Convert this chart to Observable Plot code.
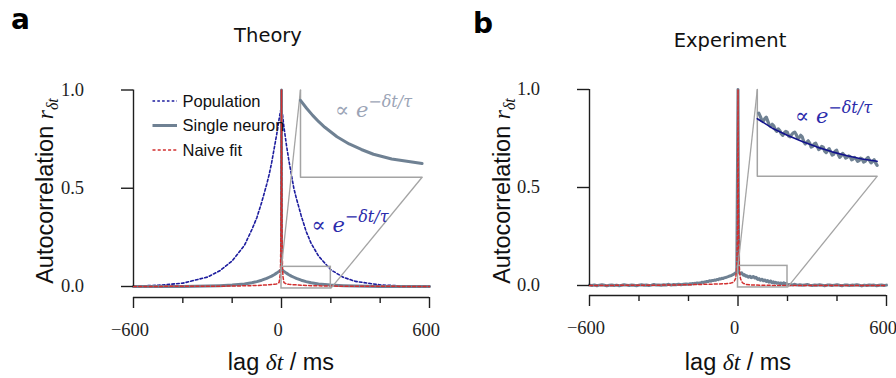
<!DOCTYPE html>
<html><head><meta charset="utf-8">
<script src="https://cdn.jsdelivr.net/npm/d3@7"></script>
<script src="https://cdn.jsdelivr.net/npm/@observablehq/plot@0.6"></script>
<style>
body{margin:0;background:#fff}
#wrap{position:relative;width:896px;height:378px;overflow:hidden;background:#fff}
#wrap svg{position:absolute;top:0}
</style></head><body><div id="wrap"></div>
<script>
// ---------------- data ----------------
const theoryLag      = [0, 10, 20, 30, 40, 50, 60, 80, 100, 120, 150, 200, 250, 300, 400, 500, 600];
const populationPos  = [0.92, 0.81, 0.72, 0.64, 0.57, 0.50, 0.45, 0.36, 0.28, 0.22, 0.155, 0.085, 0.047, 0.026, 0.008, 0.002, 0];
const populationNeg  = [0.92, 0.85, 0.77, 0.70, 0.63, 0.57, 0.52, 0.43, 0.35, 0.29, 0.21, 0.13, 0.08, 0.048, 0.017, 0.006, 0.002];
const singleNeuronAC = [0.087, 0.077, 0.068, 0.060, 0.053, 0.047, 0.041, 0.032, 0.025, 0.019, 0.013, 0.0072, 0.004, 0.002, 0.0006, 0.0002, 0.0001];
const zeroLagAC = 1.0;
const naiveLag       = [0, 1, 2, 4, 6, 10, 20, 30, 50, 100, 200, 600];
const naiveTheoryAC  = [1.0, 0.55, 0.3, 0.1, 0.05, 0.02, 0.013, 0.011, 0.009, 0.005, 0.002, 0];

const expLagFarNeg  = d3.range(-600, -200, 10);
const expFarNeg = [0.002,0.000,0.003,-0.001,0.002,0.004,0.001,-0.002,0.001,0.003,
                   0.000,0.002,-0.001,0.001,0.004,0.002,0.000,0.003,0.001,-0.001,
                   0.002,0.004,0.001,0.003,0.000,0.002,0.005,0.002,0.003,0.001,
                   0.004,0.003,0.006,0.002,0.005,0.004,0.007,0.004,0.006,0.008];
const expLagNearNeg = d3.range(-200, 0, 5);
const expNearNeg = [0.006,0.009,0.007,0.010,0.009,0.011,0.010,0.013,0.011,0.013,
                    0.014,0.017,0.015,0.018,0.019,0.021,0.020,0.024,0.022,0.026,
                    0.025,0.028,0.027,0.031,0.030,0.034,0.033,0.037,0.036,0.040,
                    0.041,0.043,0.045,0.048,0.050,0.052,0.056,0.059,0.064,0.070];
const expLagNearPos = d3.range(2.5, 202.5, 2.5);
const expNearPos = [0.070,0.066,0.061,0.060,0.063,0.065,0.060,0.055,0.053,0.056,
                    0.054,0.049,0.047,0.050,0.048,0.044,0.042,0.045,0.047,0.046,
                    0.041,0.040,0.043,0.045,0.046,0.043,0.038,0.039,0.042,0.040,
                    0.034,0.031,0.033,0.035,0.032,0.027,0.028,0.031,0.032,0.028,
                    0.024,0.025,0.028,0.027,0.022,0.020,0.023,0.025,0.021,0.017,
                    0.018,0.022,0.023,0.018,0.014,0.016,0.019,0.017,0.013,0.014,
                    0.016,0.015,0.011,0.012,0.014,0.012,0.009,0.010,0.013,0.012,
                    0.008,0.009,0.012,0.014,0.010,0.007,0.009,0.011,0.007,0.004];
const expLagFarPos  = d3.range(210, 610, 10);
const expFarPos = [0.005,0.003,0.006,0.002,0.004,0.001,0.003,0.005,0.002,0.000,
                   0.003,0.001,0.004,0.002,-0.001,0.002,0.003,0.000,0.002,0.004,
                   0.001,-0.001,0.002,0.003,0.000,0.002,0.001,0.004,0.001,-0.002,
                   0.002,0.000,0.003,0.001,0.002,-0.001,0.001,0.003,0.000,0.002];
const naiveExpLag = [-600,-300,-200,-100,-50,-30,-20,-15,-10,-7,-5,-3,-2,-1,0,1,2,3,5,7,10,15,20,30,50,100,200,300,600];
const naiveExpAC  = [0.000,0.002,0.004,0.007,0.009,0.012,0.016,0.022,0.035,0.06,0.10,0.2,0.3,0.5,1.0,0.5,0.3,0.2,0.1,0.06,0.035,0.02,0.012,0.006,0.003,0.001,0.000,0.000,0.000];
const fitLag = [0, 25, 50, 75, 100, 125, 150, 175, 200];
const fitAC  = [0.063, 0.051, 0.042, 0.034, 0.027, 0.021, 0.016, 0.012, 0.009];

const xMajorTicks = [-600, 0, 600];
const xMinorTicks = [-400, -200, 200, 400];
const yTicks = [0, 0.5, 1.0];
const legendLabels = ["Population", "Single neuron", "Naive fit"];
const titles = ["Theory", "Experiment"];

// ---------------- style ----------------
const GRAY = "#6f8193", BLUE = "#1c1c9e", RED = "#d22f2f", INSET = "#a4a4a4",
      INK = "#1e1e1e", FIT = "#12128c", TXTBLUE = "#2b2bab", TXTGRAY = "#9ba4b6";
const SANS = "'Liberation Sans', Arial, sans-serif";
const SERIF = "'Liberation Serif', 'DejaVu Serif', serif";
const MATH = "'DejaVu Serif', serif";
const TITLEF = "'DejaVu Sans', sans-serif";

const pts = (xs, ys) => xs.map((x, i) => ({x, y: ys[i]}));
const negPts = (xs, ys) => xs.map((x, i) => ({x: -x, y: ys[i]})).reverse();
function addText(svg, x, y, parts, opts = {}) {
  const t = d3.select(svg).append("text").attr("x", x).attr("y", y)
    .attr("text-anchor", opts.anchor || "start").attr("fill", opts.fill || INK);
  if (opts.transform) t.attr("transform", opts.transform).attr("x", 0).attr("y", 0);
  for (const p of parts) {
    const s = t.append("tspan").text(p.t)
      .attr("font-family", p.ff || SANS).attr("font-size", p.fs || 20)
      .attr("font-style", p.it ? "italic" : "normal")
      .attr("font-weight", p.bold ? "bold" : "normal");
    if (p.dy) s.attr("dy", p.dy);
  }
  return t;
}

function panel(cfg) {
  const box = cfg.inset;
  const mx = x => box.x[0] + (x - box.dx[0]) / (box.dx[1] - box.dx[0]) * (box.x[1] - box.x[0]);
  const my = y => box.y[0] + (y - box.dy[0]) / (box.dy[1] - box.dy[0]) * (box.y[1] - box.y[0]);
  const toInset = arr => arr.filter(p => p.x >= box.dx[0] && p.x <= box.dx[1] && p.y <= box.dy[1])
                            .map(p => ({x: mx(p.x), y: my(p.y)}));
  const insetMarks = [
    Plot.rect([{x1: box.dx[0], x2: box.dx[1], y1: box.dy[0], y2: box.dy[1]}],
      {x1: "x1", x2: "x2", y1: "y1", y2: "y2", fill: "none", stroke: INSET, strokeWidth: 1.5}),
    Plot.link([{x1: box.dx[0], y1: box.dy[1], x2: box.x[0], y2: box.y[1]},
               {x1: box.dx[1], y1: box.dy[0], x2: box.x[1], y2: box.y[0]}],
      {x1: "x1", y1: "y1", x2: "x2", y2: "y2", stroke: INSET, strokeWidth: 1.3}),
    Plot.line([{x: box.x[0], y: box.y[1]}, {x: box.x[0], y: box.y[0]}, {x: box.x[1], y: box.y[0]}],
      {x: "x", y: "y", stroke: INSET, strokeWidth: 1.5})
  ];
  for (const s of cfg.insetSeries) {
    insetMarks.push(Plot.line(toInset(s.data), {x: "x", y: "y", stroke: s.stroke, strokeWidth: s.width, strokeLinejoin: "round"}));
  }
  const svg = Plot.plot({
    width: 448, height: 378,
    marginLeft: cfg.ml, marginRight: cfg.mr, marginTop: cfg.mt, marginBottom: cfg.mb,
    x: {domain: [-600, 600]},
    y: {domain: [cfg.yMin, 1]},
    style: {fontFamily: SERIF, fontSize: "18.5px", color: INK, background: "transparent", overflow: "visible"},
    marks: [
      ...cfg.mainMarks,
      ...insetMarks,
      Plot.ruleX([{x: -600, y1: 0, y2: 1}], {x: "x", y1: "y1", y2: "y2", stroke: INK, strokeWidth: 1.4}),
      Plot.ruleY([{y: cfg.yMin, x1: -600, x2: 600}], {y: "y", x1: "x1", x2: "x2", stroke: INK, strokeWidth: 1.4}),
      Plot.axisY({ticks: yTicks, tickSize: 12, tickFormat: () => "", label: null, strokeWidth: 1.4}),
      Plot.axisX({ticks: xMajorTicks, tickSize: 11, tickFormat: () => "", label: null, strokeWidth: 1.4}),
      Plot.text(xMajorTicks, {x: d => d, frameAnchor: "bottom", dy: 25, dx: -3.5, lineAnchor: "top",
                              text: d => d3.format("d")(d), fontSize: 18.5, fontFamily: SERIF, fill: INK}),
      Plot.axisX({ticks: xMinorTicks, tickSize: 6, tickFormat: () => "", label: null, strokeWidth: 1.4})
    ]
  });
  svg.style.left = cfg.left + "px";
  return svg;
}

// y tick labels placed through each plot's own y scale, right-aligned left of the ticks
function yTickLabels(svg, ml) {
  const ys = svg.scale("y");
  const g = d3.select(svg).append("g");
  for (const v of yTicks) {
    g.append("text").attr("x", ml - 49).attr("y", ys.apply(v)).attr("dy", "0.34em")
      .attr("text-anchor", "end").attr("font-family", SERIF).attr("font-size", 18.5)
      .attr("fill", INK).text(d3.format(".1f")(v));
  }
}

const popSeries = [...negPts(theoryLag, populationNeg), ...pts(theoryLag, populationPos).slice(1)];
const snPos = pts(theoryLag, singleNeuronAC);
const snSeries = [...negPts(theoryLag, singleNeuronAC), {x: 0, y: zeroLagAC}, ...snPos];
const nvSeries = [...negPts(naiveLag, naiveTheoryAC), ...pts(naiveLag, naiveTheoryAC).slice(1)];

const svgA = panel({
  left: 0, ml: 133, mr: 19, mt: 89.5, mb: 81, yMin: -0.056,
  inset: {dx: [0, 200], dy: [-0.01, 0.1], x: [77, 570], y: [0.556, 1.0]},
  mainMarks: [
    Plot.line(popSeries, {x: "x", y: "y", stroke: BLUE, strokeWidth: 1.6, strokeDasharray: "2.6,2.2"}),
    Plot.line(snSeries, {x: "x", y: "y", stroke: GRAY, strokeWidth: 3, strokeLinejoin: "round"}),
    Plot.line(nvSeries, {x: "x", y: "y", stroke: RED, strokeWidth: 1.5, strokeDasharray: "3,2.2"})
  ],
  insetSeries: [{data: snPos, stroke: GRAY, width: 3}]
});

const expSeries = [...pts(expLagFarNeg, expFarNeg), ...pts(expLagNearNeg, expNearNeg),
                   {x: 0, y: zeroLagAC}, ...pts(expLagNearPos, expNearPos), ...pts(expLagFarPos, expFarPos)];
const nvExpSeries = pts(naiveExpLag, naiveExpAC);
const fitSeries = pts(fitLag, fitAC);

const svgB = panel({
  left: 448, ml: 141, mr: 10, mt: 89, mb: 83, yMin: -0.051,
  inset: {dx: [0, 200], dy: [-0.01, 0.1], x: [78, 562], y: [0.557, 1.0]},
  mainMarks: [
    Plot.line(expSeries, {x: "x", y: "y", stroke: GRAY, strokeWidth: 3, strokeLinejoin: "round"}),
    Plot.line(nvExpSeries, {x: "x", y: "y", stroke: RED, strokeWidth: 1.5, strokeDasharray: "3,2.2"})
  ],
  insetSeries: [{data: pts(expLagNearPos, expNearPos), stroke: GRAY, width: 3.2},
                {data: fitSeries, stroke: FIT, width: 1.6}]
});

const wrap = document.getElementById("wrap");
wrap.appendChild(svgA);
wrap.appendChild(svgB);
yTickLabels(svgA, 133);
yTickLabels(svgB, 141);

function decorate(svg, o) {
  addText(svg, o.letterX, o.letterY, [{t: o.letter, ff: TITLEF, fs: 28, bold: true}], {fill: "#000"});
  addText(svg, o.titleX, o.titleY, [{t: o.title, ff: TITLEF, fs: 19.5}], {anchor: "middle", fill: "#111"});
  addText(svg, 0, 0, [
    {t: "Autocorrelation ", ff: SANS, fs: 23.5},
    {t: "r", ff: SERIF, fs: 23.5, it: true},
    {t: "δt", ff: SERIF, fs: 16, it: true, dy: 5}
  ], {anchor: "middle", fill: "#111", transform: `translate(${o.ylabX},191) rotate(-90)`});
  addText(svg, o.xlabX, 370, [
    {t: "lag ", ff: SANS, fs: 23.5},
    {t: "δt", ff: SERIF, fs: 23.5, it: true},
    {t: " / ms", ff: SANS, fs: 23.5}
  ], {anchor: "middle", fill: "#111"});
}
decorate(svgA, {letter: "a", letterX: 11, letterY: 28.5, title: titles[0], titleX: 268, titleY: 42, ylabX: 52.5, xlabX: 281});
decorate(svgB, {letter: "b", letterX: 25, letterY: 33, title: titles[1], titleX: 282, titleY: 46.5, ylabX: 61.5, xlabX: 290});

function formula(svg, x, y, fill) {
  addText(svg, x, y, [
    {t: "∝ ", ff: MATH, fs: 21},
    {t: "e", ff: MATH, fs: 21, it: true},
    {t: "−δt/τ", ff: MATH, fs: 16, it: true, dy: -10}
  ], {fill});
}
formula(svgA, 335, 117, TXTGRAY);
formula(svgA, 311.5, 232, TXTBLUE);
formula(svgB, 347, 123, TXTBLUE);

const legendStyles = [
  {stroke: BLUE, width: 1.6, dash: "2.6,2.2"},
  {stroke: GRAY, width: 3, dash: null},
  {stroke: RED, width: 1.5, dash: "3,2.2"}
];
const lg = d3.select(svgA).append("g");
legendLabels.forEach((label, i) => {
  const y = 101 + i * 24.5;
  const st = legendStyles[i];
  const ln = lg.append("line").attr("x1", 152.5).attr("x2", 177).attr("y1", y).attr("y2", y)
    .attr("stroke", st.stroke).attr("stroke-width", st.width);
  if (st.dash) ln.attr("stroke-dasharray", st.dash);
  lg.append("text").attr("x", 182.5).attr("y", y + 5.5).attr("text-anchor", "start")
    .attr("font-family", SANS).attr("font-size", 16.5).attr("fill", "#111").text(label);
});
</script></body></html>
